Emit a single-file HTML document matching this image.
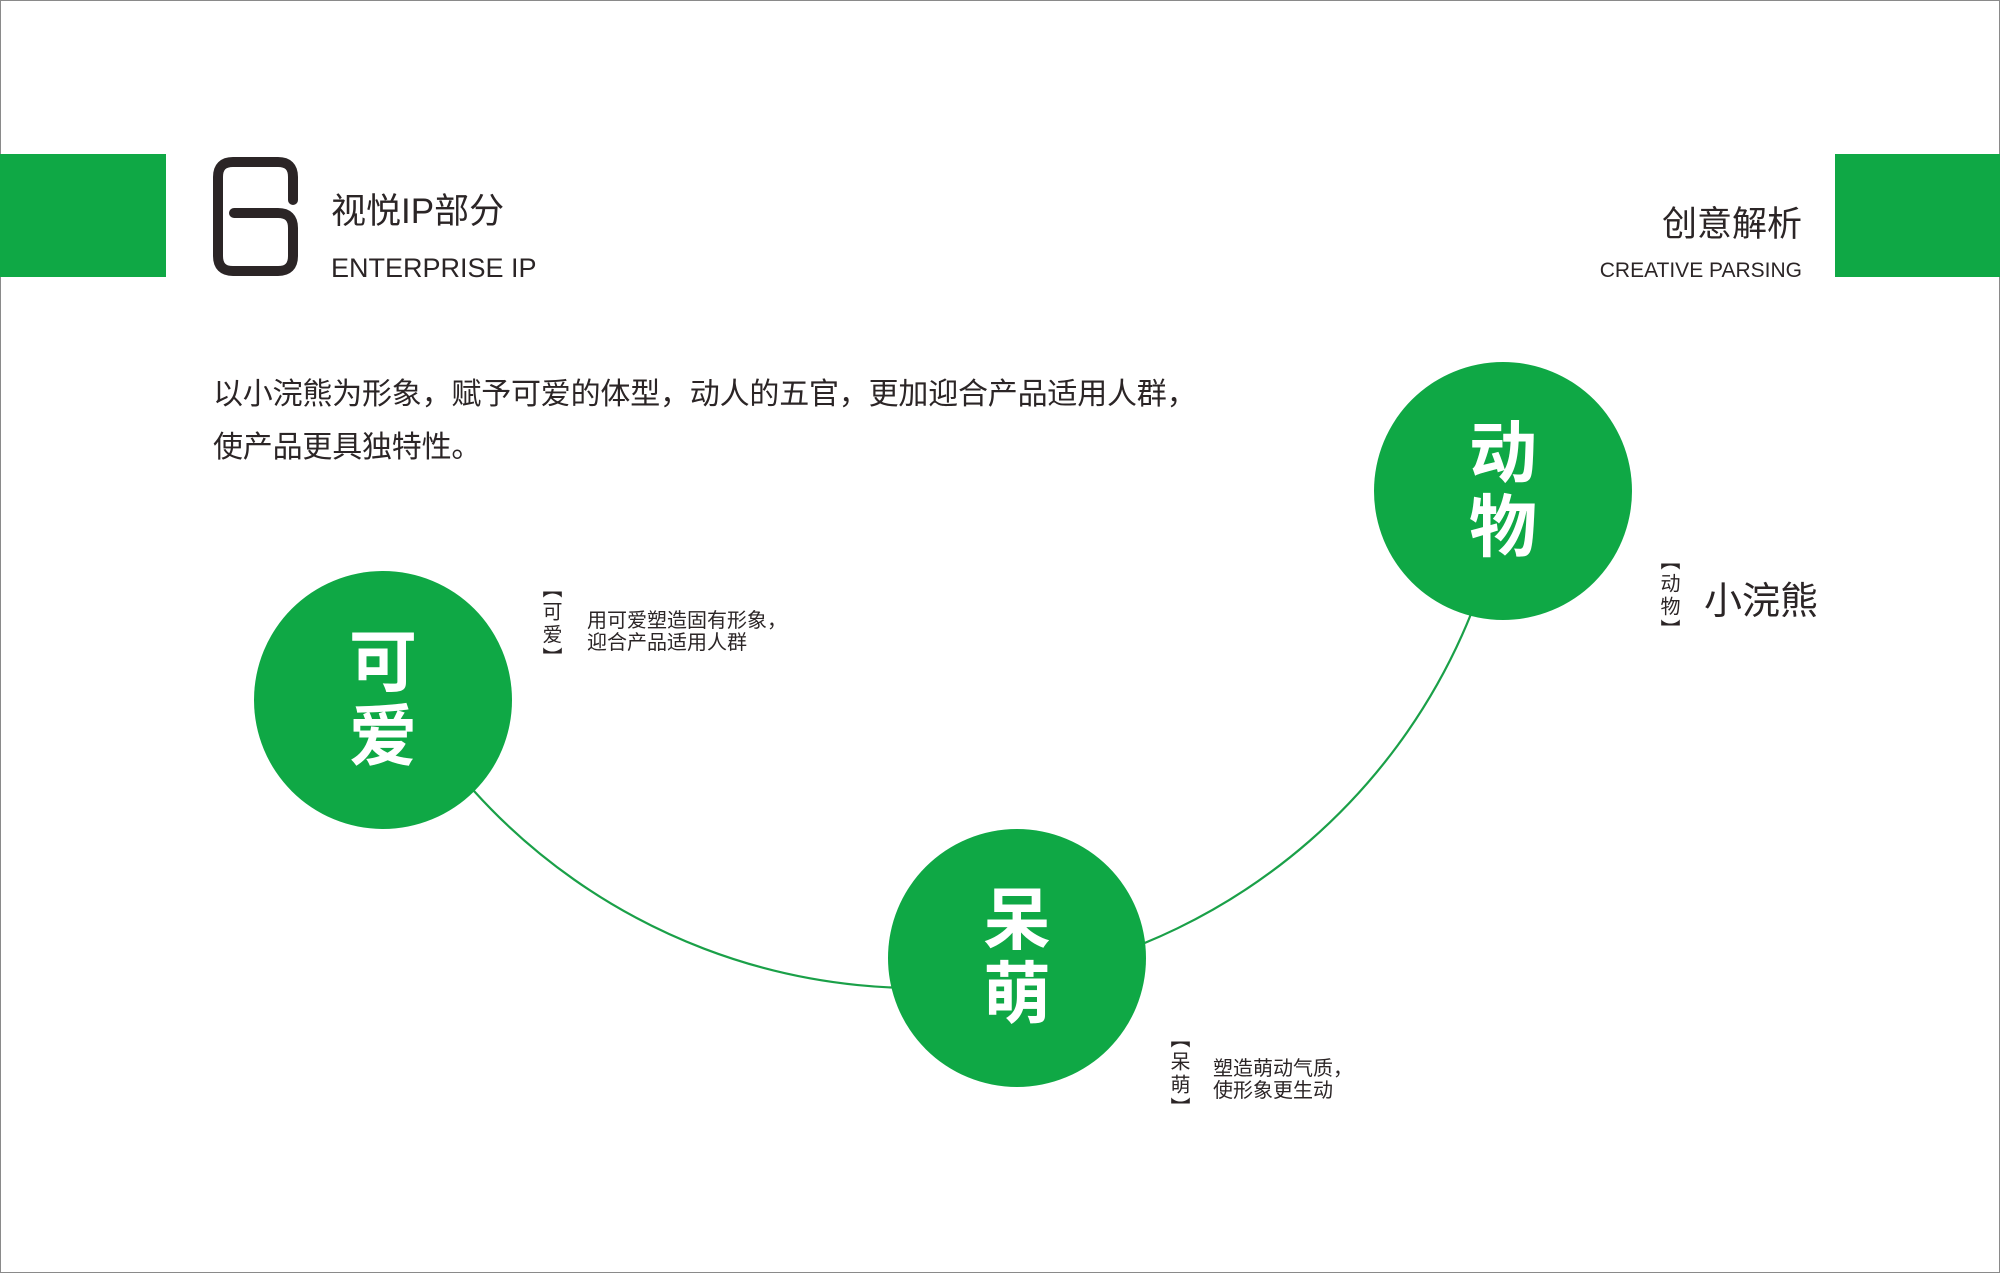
<!DOCTYPE html>
<html><head><meta charset="utf-8"><style>
html,body{margin:0;padding:0}
body{width:2000px;height:1273px;position:relative;background:#fff;overflow:hidden;font-family:"Liberation Sans","Noto Sans CJK SC",sans-serif;color:#2b2526}
.frame{position:absolute;left:0;top:0;width:1998px;height:1271px;border:1px solid #8a8a8a}
.g{position:absolute;background:#0fa845}
.t{position:absolute;white-space:nowrap;line-height:1}
.circ{position:absolute;width:258px;height:258px;border-radius:50%;background:#0fa845;color:#fff;font-weight:bold;font-size:68px;line-height:74px;text-align:center;display:flex;flex-direction:column;justify-content:center;align-items:center}
.v{position:absolute;writing-mode:vertical-rl;font-size:20px;line-height:24px;letter-spacing:3px;white-space:nowrap;font-family:"Noto Sans CJK SC",sans-serif}
</style></head><body>
<div class="frame"></div>
<div class="g" style="left:0;top:154px;width:166px;height:123px"></div>
<div class="g" style="left:1835px;top:154px;width:165px;height:123px"></div>
<svg style="position:absolute;left:0;top:0" width="2000" height="1273">
<path d="M293,200 V177 Q293,162 278,162 H233 Q218,162 218,177 V256 Q218,271 233,271 H278 Q293,271 293,256 V228 Q293,213 278,213 H234" fill="none" stroke="#2b2526" stroke-width="10" stroke-linecap="round"/>
<path d="M474,791 A597,597 0 0 0 1471,614" fill="none" stroke="#1aa048" stroke-width="2.2"/>
</svg>
<div class="t" style="left:331px;top:194px;font-size:35px">视悦IP部分</div>
<div class="t" style="left:331px;top:255px;font-size:27px">ENTERPRISE IP</div>
<div class="t" style="right:198px;top:207px;font-size:35px">创意解析</div>
<div class="t" style="right:198px;top:260px;font-size:21px">CREATIVE PARSING</div>
<div class="t" style="left:213px;top:380px;font-size:30px;letter-spacing:-0.2px">以小浣熊为形象，赋予可爱的体型，动人的五官，更加迎合产品适用人群，</div>
<div class="t" style="left:213px;top:433px;font-size:30px;letter-spacing:-0.2px">使产品更具独特性。</div>

<div class="circ" style="left:254px;top:571px">可<br>爱</div>
<div class="circ" style="left:888px;top:829px">呆<br>萌</div>
<div class="circ" style="left:1374px;top:362px">动<br>物</div>

<div class="v" style="left:540px;top:578px">【可爱】</div>
<div class="t" style="left:587px;top:610px;font-size:20px;line-height:22px">用可爱塑造固有形象，<br>迎合产品适用人群</div>

<div class="v" style="left:1168px;top:1028px">【呆萌】</div>
<div class="t" style="left:1213px;top:1058px;font-size:20px;line-height:22px">塑造萌动气质，<br>使形象更生动</div>

<div class="v" style="left:1658px;top:550px">【动物】</div>
<div class="t" style="left:1704px;top:583px;font-size:38px">小浣熊</div>
</body></html>
